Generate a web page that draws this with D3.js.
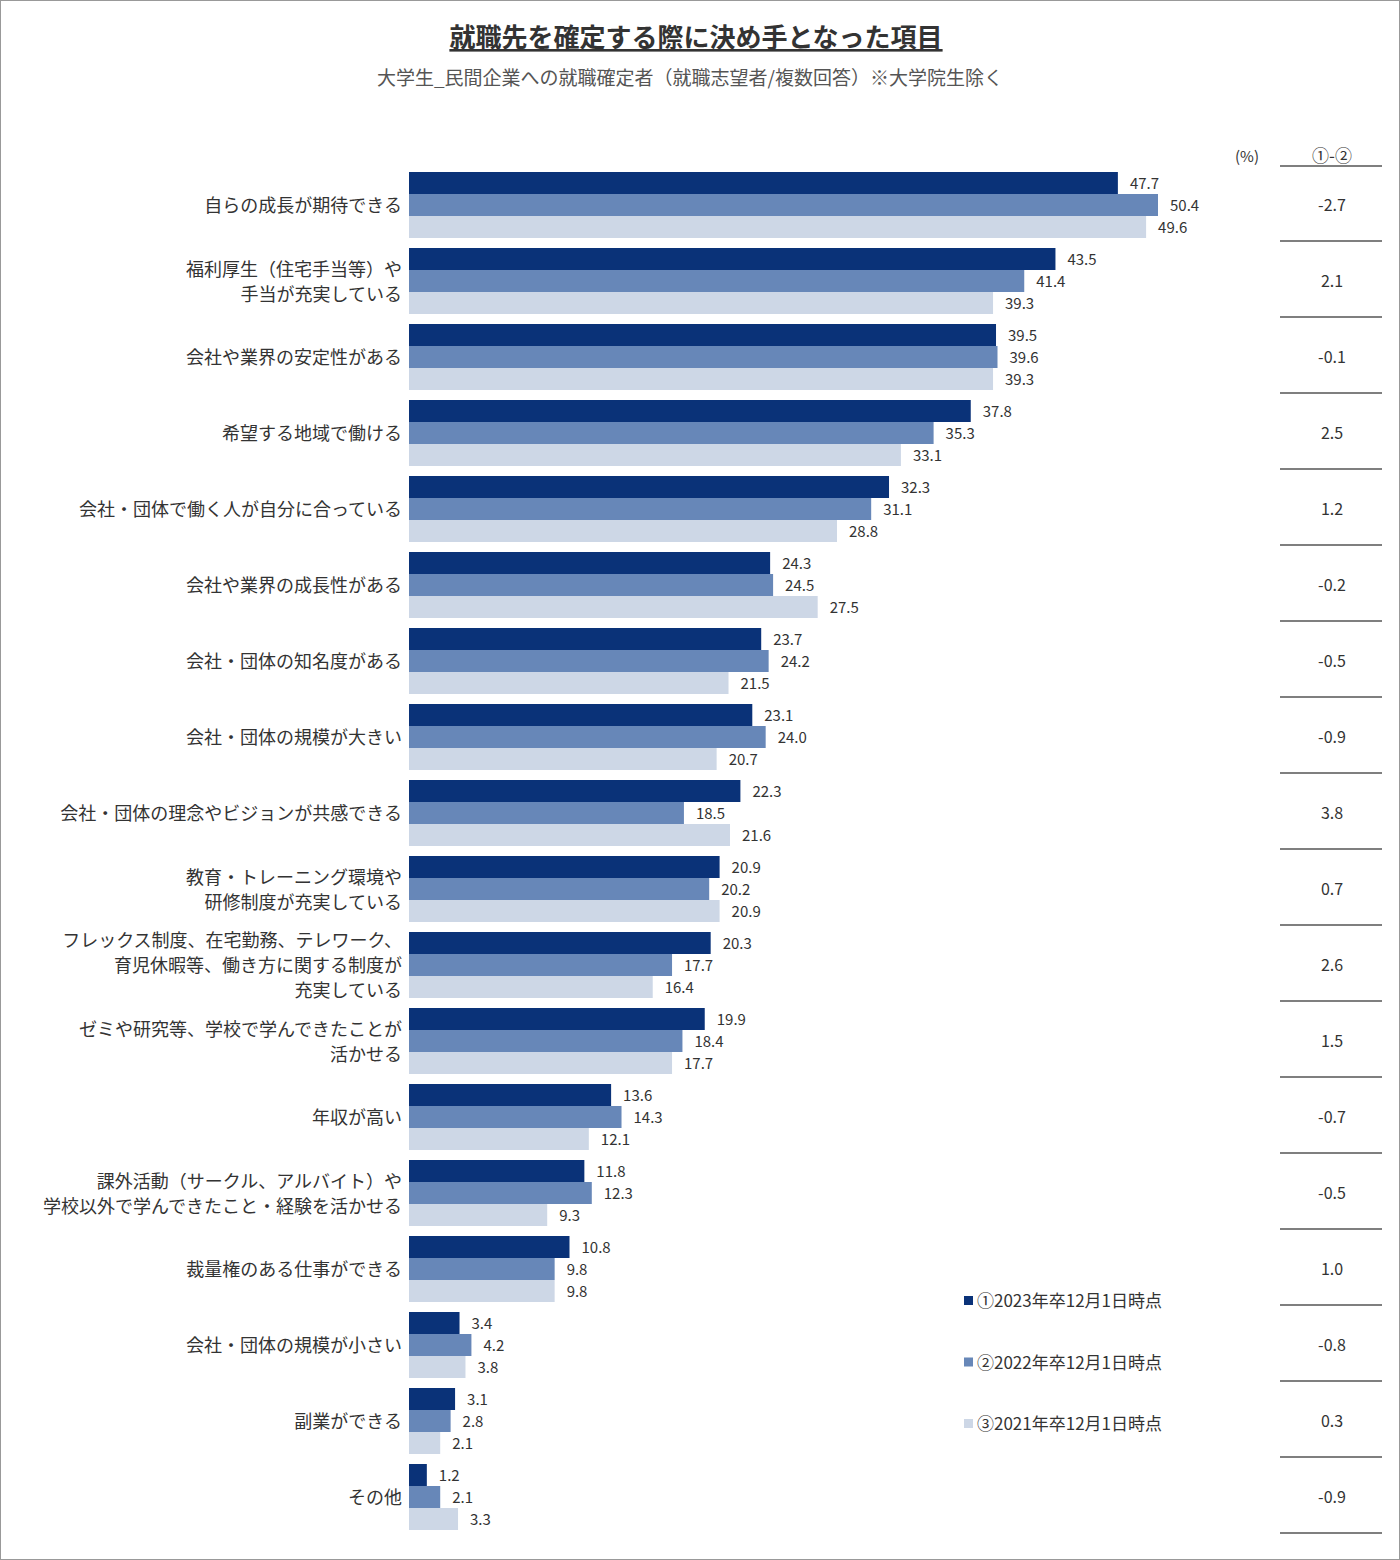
<!DOCTYPE html>
<html><head><meta charset="utf-8">
<script src="https://cdn.jsdelivr.net/npm/d3@7"></script>
<style>
body{margin:0;background:#fff;font-family:"Noto Sans CJK JP","Noto Sans",sans-serif;}
</style></head>
<body><svg id="chart" width="1400" height="1560"></svg>
<script>
const categories = [
  ["自らの成長が期待できる"],
  ["福利厚生（住宅手当等）や","手当が充実している"],
  ["会社や業界の安定性がある"],
  ["希望する地域で働ける"],
  ["会社・団体で働く人が自分に合っている"],
  ["会社や業界の成長性がある"],
  ["会社・団体の知名度がある"],
  ["会社・団体の規模が大きい"],
  ["会社・団体の理念やビジョンが共感できる"],
  ["教育・トレーニング環境や","研修制度が充実している"],
  ["フレックス制度、在宅勤務、テレワーク、","育児休暇等、働き方に関する制度が","充実している"],
  ["ゼミや研究等、学校で学んできたことが","活かせる"],
  ["年収が高い"],
  ["課外活動（サークル、アルバイト）や","学校以外で学んできたこと・経験を活かせる"],
  ["裁量権のある仕事ができる"],
  ["会社・団体の規模が小さい"],
  ["副業ができる"],
  ["その他"]
];
const y2023 = [47.7,43.5,39.5,37.8,32.3,24.3,23.7,23.1,22.3,20.9,20.3,19.9,13.6,11.8,10.8,3.4,3.1,1.2];
const y2022 = [50.4,41.4,39.6,35.3,31.1,24.5,24.2,24.0,18.5,20.2,17.7,18.4,14.3,12.3,9.8,4.2,2.8,2.1];
const y2021 = [49.6,39.3,39.3,33.1,28.8,27.5,21.5,20.7,21.6,20.9,16.4,17.7,12.1,9.3,9.8,3.8,2.1,3.3];
const diffs = ["-2.7","2.1","-0.1","2.5","1.2","-0.2","-0.5","-0.9","3.8","0.7","2.6","1.5","-0.7","-0.5","1.0","-0.8","0.3","-0.9"];
const seriesNames = ["①2023年卒12月1日時点","②2022年卒12月1日時点","③2021年卒12月1日時点"];
const colors = ["#0a3278","#6787b8","#cdd7e6"];

const svg = d3.select("#chart");
svg.append("rect").attr("x",0.5).attr("y",0.5).attr("width",1399).attr("height",1559)
  .attr("fill","none").attr("stroke","#999");

svg.append("text").attr("x",696).attr("y",47).attr("text-anchor","middle")
  .attr("font-size",26).attr("font-weight","bold").attr("fill","#333")
  .attr("text-decoration","underline").text("就職先を確定する際に決め手となった項目");
svg.append("text").attr("x",690).attr("y",85).attr("text-anchor","middle")
  .attr("font-size",19).attr("fill","#555")
  .text("大学生_民間企業への就職確定者（就職志望者/複数回答）※大学院生除く");

const x = d3.scaleLinear().domain([0,50.4]).range([409,1158]);
const y = d3.scaleBand().domain(d3.range(categories.length)).range([172,1540]).paddingInner(0).paddingOuter(0);
const sub = d3.scaleBand().domain([0,1,2]).range([0,66]);
const series = [y2023,y2022,y2021];

const g = svg.append("g");
categories.forEach((lines,i)=>{
  series.forEach((s,k)=>{
    const top = y(i)+sub(k);
    g.append("rect").attr("x",x(0)).attr("y",top).attr("width",x(s[i])-x(0))
      .attr("height",sub.bandwidth()).attr("fill",colors[k]);
    g.append("text").attr("x",x(s[i])+12).attr("y",top+sub.bandwidth()/2+6)
      .attr("font-size",15).attr("fill","#333").text(s[i].toFixed(1));
  });
  const cy = y(i)+33;
  const lh = 25;
  lines.forEach((l,j)=>{
    g.append("text").attr("x",402).attr("y",cy+7+(j-(lines.length-1)/2)*lh)
      .attr("text-anchor","end").attr("font-size",18).attr("fill","#333").text(l);
  });
  g.append("text").attr("x",1332).attr("y",cy+6).attr("text-anchor","middle")
    .attr("font-size",16).attr("fill","#333").text(diffs[i]);
  g.append("line").attr("x1",1280).attr("x2",1382).attr("y1",y(i)+69).attr("y2",y(i)+69)
    .attr("stroke","#555").attr("stroke-width",1.5);
});
svg.append("text").attr("x",1247).attr("y",162).attr("text-anchor","middle")
  .attr("font-size",15).attr("fill","#333").text("(%)");
svg.append("text").attr("x",1332).attr("y",162).attr("text-anchor","middle")
  .attr("font-size",17).attr("fill","#333").text("①-②");
svg.append("line").attr("x1",1280).attr("x2",1382).attr("y1",166).attr("y2",166)
  .attr("stroke","#555").attr("stroke-width",1.5);

seriesNames.forEach((n,k)=>{
  const ly = 1301 + k*61.5;
  svg.append("rect").attr("x",964).attr("y",ly-5).attr("width",9).attr("height",9).attr("fill",colors[k]);
  svg.append("text").attr("x",977).attr("y",ly+6).attr("font-size",17).attr("fill","#333").text(n);
});
</script></body></html>
